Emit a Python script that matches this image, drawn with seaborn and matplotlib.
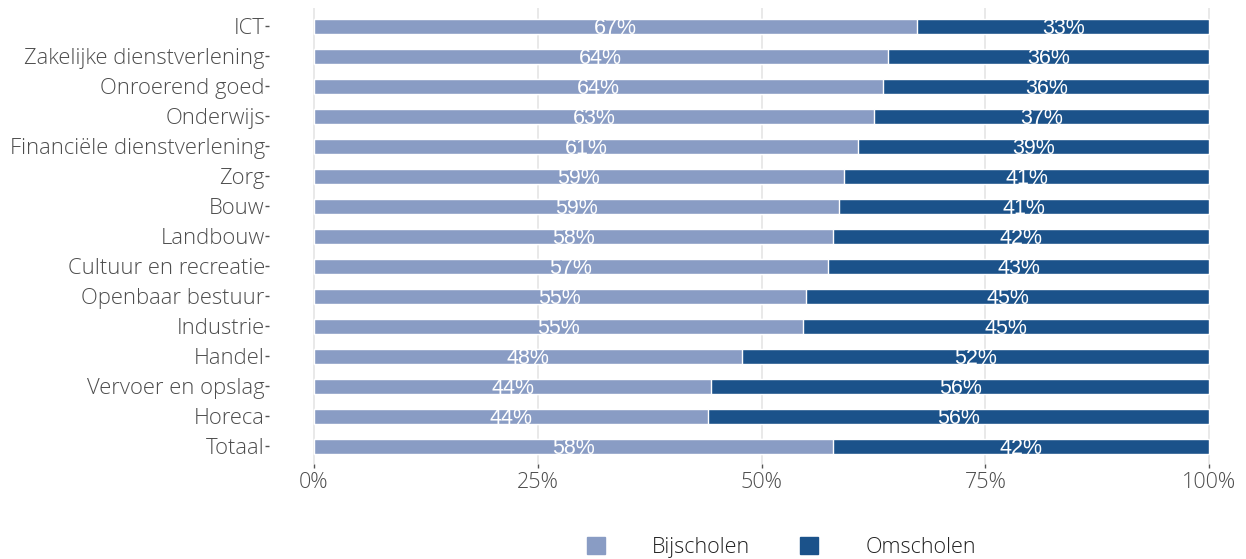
import seaborn as sns
import matplotlib.pyplot as plt
import pandas as pd

sectors = ['ICT', 'Zakelijke dienstverlening', 'Onroerend goed', 'Onderwijs',
           'Financiële dienstverlening', 'Zorg', 'Bouw', 'Landbouw',
           'Cultuur en recreatie', 'Openbaar bestuur', 'Industrie', 'Handel',
           'Vervoer en opslag', 'Horeca', 'Totaal']
bijscholen = [0.674, 0.641, 0.636, 0.626, 0.608, 0.592, 0.587, 0.580,
              0.574, 0.550, 0.546, 0.478, 0.444, 0.440, 0.580]
omscholen = [1 - b for b in bijscholen]

df = pd.DataFrame({'sector': sectors, 'Bijscholen': bijscholen, 'Omscholen': omscholen})
df['totaal'] = df['Bijscholen'] + df['Omscholen']

light = '#899cc4'
dark = '#1b528a'

sns.set_style('white')
plt.rcParams['font.family'] = ['Open Sans', 'DejaVu Sans']

fig = plt.figure(figsize=(12.46, 5.59), dpi=100)
ax = fig.add_axes([269 / 1246, 95 / 559, 985 / 1246, 456 / 559])

# stacked: full bar first (dark), light on top
sns.barplot(data=df, x='totaal', y='sector', color=dark, width=0.5,
            orient='h', ax=ax, saturation=1, zorder=2)
sns.barplot(data=df, x='Bijscholen', y='sector', color=light, width=0.5,
            orient='h', ax=ax, saturation=1, zorder=3)

# labels centred in each segment
for i, (b, o) in enumerate(zip(bijscholen, omscholen)):
    ax.text(b / 2, i + 0.1, f'{b * 100:.0f}%', ha='center', va='center',
            color='white', fontsize=15.5, family='Liberation Sans', zorder=4)
    ax.text(b + o / 2, i + 0.1, f'{o * 100:.0f}%', ha='center', va='center',
            color='white', fontsize=15.5, family='Liberation Sans', zorder=4)

ax.set_xlim(-0.05, 1.05)
ax.set_ylim(14.6, -0.6)
ax.set_xticks([0, 0.25, 0.5, 0.75, 1])
ax.set_xticklabels(['0%', '25%', '50%', '75%', '100%'])
ax.xaxis.grid(True, color='#e3e3e3', linewidth=1.1, zorder=0)
ax.yaxis.grid(False)
ax.set_axisbelow(True)
for s in ax.spines.values():
    s.set_visible(False)
ax.set_xlabel('')
ax.set_ylabel('')
ax.tick_params(axis='both', left=True, bottom=True, length=3, width=1,
               color='#555555', labelcolor='#4d4d4d', pad=0)
ax.tick_params(axis='y', labelsize=15.8)
ax.tick_params(axis='x', labelsize=15.5, pad=3)
for t in ax.get_xticklabels() + ax.get_yticklabels():
    t.set_fontweight('light')

handles = [plt.Rectangle((0, 0), 1, 1, color=light),
           plt.Rectangle((0, 0), 1, 1, color=dark)]
leg = fig.legend(handles, ['Bijscholen', 'Omscholen'], loc='center',
                 bbox_to_anchor=(0.627, 0.02), ncol=2, frameon=False,
                 handlelength=0.85, handleheight=0.85,
                 handletextpad=2.2, columnspacing=2.3,
                 prop={'size': 15.5, 'weight': 'light'})
for t in leg.get_texts():
    t.set_color('#222222')

fig.savefig('out.png', dpi=100)
